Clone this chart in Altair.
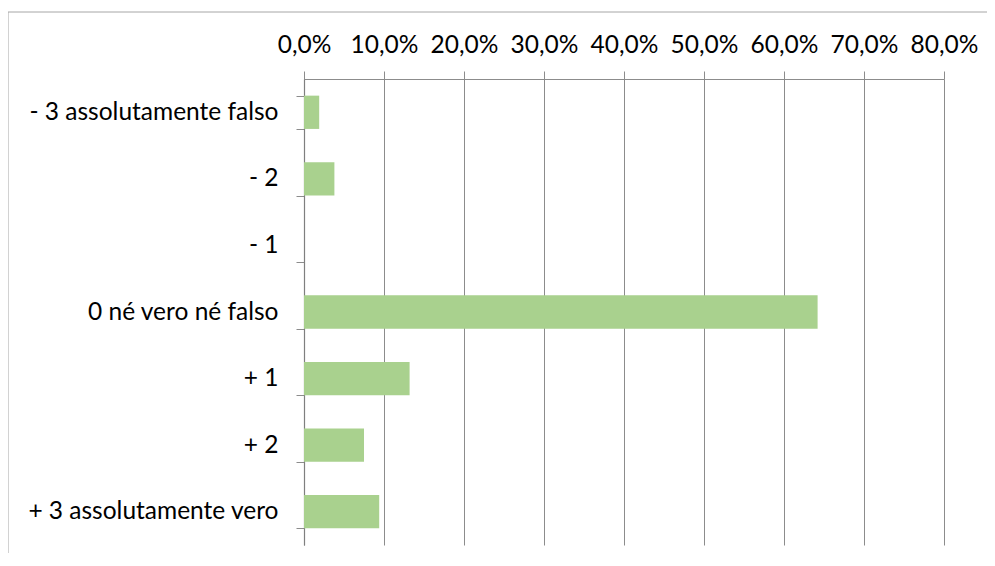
import altair as alt
import pandas as pd

categories = [
    "- 3 assolutamente falso",
    "- 2\u00a0",
    "- 1\u00a0",
    "0 né vero né falso",
    "+ 1",
    "+ 2\u00a0",
    "+ 3 assolutamente vero",
]
values = [0.019, 0.038, 0.0, 0.642, 0.132, 0.075, 0.094]
x_ticks = [0.0, 0.1, 0.2, 0.3, 0.4, 0.5, 0.6, 0.7, 0.8]

df = pd.DataFrame({"cat": categories, "val": values})

FONT = "Lato"
LINE = "#8c8c8c"

bars = alt.Chart(df).mark_bar(color="#A9D18E").encode(
    x=alt.X(
        "val:Q",
        scale=alt.Scale(domain=[0, 0.8], nice=False, zero=True),
        axis=alt.Axis(
            orient="top",
            values=x_ticks,
            title=None,
            labelExpr="replace(format(datum.value, '.1%'), '.', ',')",
            labelFont=FONT,
            labelFontSize=24.5,
            labelColor="#000000",
            labelPadding=14,
            tickSize=8,
            tickColor=LINE,
            domainColor=LINE,
            gridColor=LINE,
            grid=True,
            labelFlush=False,
            labelOverlap=False,
        ),
    ),
    y=alt.Y(
        "cat:N",
        sort=categories,
        scale=alt.Scale(paddingInner=0.5, paddingOuter=0.25),
        axis=alt.Axis(
            title=None,
            labelFont=FONT,
            labelFontSize=24.5,
            labelColor="#000000",
            labelPadding=18,
            labelLimit=400,
            tickSize=8,
            tickColor=LINE,
            domainColor="#7f7f7f",
            domainWidth=1.2,
            tickBand="extent",
            grid=False,
        ),
    ),
)

frame_data = alt.Data(values=[{"k": 0}])
top_rule = alt.Chart(frame_data).mark_rule(color="#a6a6a6", strokeWidth=1, clip=False).encode(
    x=alt.value(-296), x2=alt.value(700), y=alt.value(-67)
)
left_rule = alt.Chart(frame_data).mark_rule(color="#a6a6a6", strokeWidth=1, clip=False).encode(
    x=alt.value(-296), y=alt.value(-67), y2=alt.value(520)
)

chart = alt.layer(bars, top_rule, left_rule).properties(
    width=640,
    height=466,
    padding={"left": 296, "top": 71, "right": 43, "bottom": 8},
    autosize=alt.AutoSizeParams(type="none"),
    background="white",
).configure_view(stroke=None)

chart.save("out.html", embed_options={"renderer": "svg", "actions": False})
